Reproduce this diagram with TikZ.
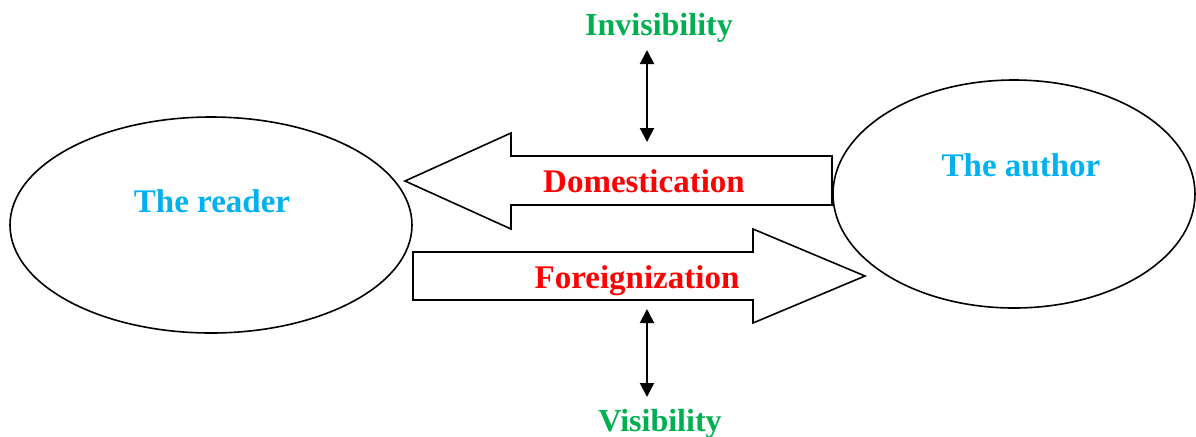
\documentclass[tikz,border=0pt]{standalone}
\usepackage{fontspec}
\setmainfont{Liberation Serif}
\usetikzlibrary{arrows.meta,shapes.geometric}
\definecolor{partyblue}{RGB}{0,176,240}
\definecolor{visgreen}{RGB}{0,176,80}
\tikzstyle{party} = [ellipse, draw=black, line width=0.8pt, inner sep=0pt]
\tikzstyle{partyname} = [anchor=base, font=\bfseries\fontsize{16.5}{18}\selectfont, text=partyblue]
\tikzstyle{strategy} = [anchor=base, font=\bfseries\fontsize{16.5}{18}\selectfont, text=red]
\tikzstyle{visibility} = [anchor=base, font=\bfseries\fontsize{16}{18}\selectfont, text=visgreen]
\tikzstyle{blockarrow} = [draw=black, line width=0.8pt, fill=white, line join=miter]
\tikzstyle{visptr} = [{Triangle[length=7pt,width=7pt]}-{Triangle[length=7pt,width=7pt]}, line width=1pt]

\begin{document}
\begin{tikzpicture}[x=0.5pt,y=-0.5pt]
        \useasboundingbox (0,0) rectangle (1196,436);
        \node (reader) [party, minimum width=201pt, minimum height=108pt] at (211,225) {};
        \node (author) [party, minimum width=181pt, minimum height=114pt] at (1014,194) {};
        \node (readername) [partyname] at (212,212.7) {The reader};
        \node (authorname) [partyname] at (1021,176) {The author};

        % domestication, author to reader
        \draw [blockarrow] (832,156) -- (511,156) -- (511,133) -- (405,181) -- (511,229) -- (511,205) -- (832,205) -- cycle;
        \node (domestic) [strategy] at (644,192.7) {Domestication};

        % foreignization, reader to author
        \draw [blockarrow] (413,252) -- (753,252) -- (753,229) -- (865,276) -- (753,323) -- (753,300) -- (413,300) -- cycle;
        \node (foreign) [strategy] at (637,288) {Foreignization};

        \node (invisible) [visibility] at (659,35) {Invisibility};
        \node (visible) [visibility] at (660,431) {Visibility};

        \coordinate (invtop) at (647,50);
        \coordinate (invbot) at (647,142);
        \coordinate (vistop) at (647,309);
        \coordinate (visbot) at (647,397);
        \draw [visptr] (invtop) -- (invbot);
        \draw [visptr] (vistop) -- (visbot);
    \end{tikzpicture}
\end{document}
